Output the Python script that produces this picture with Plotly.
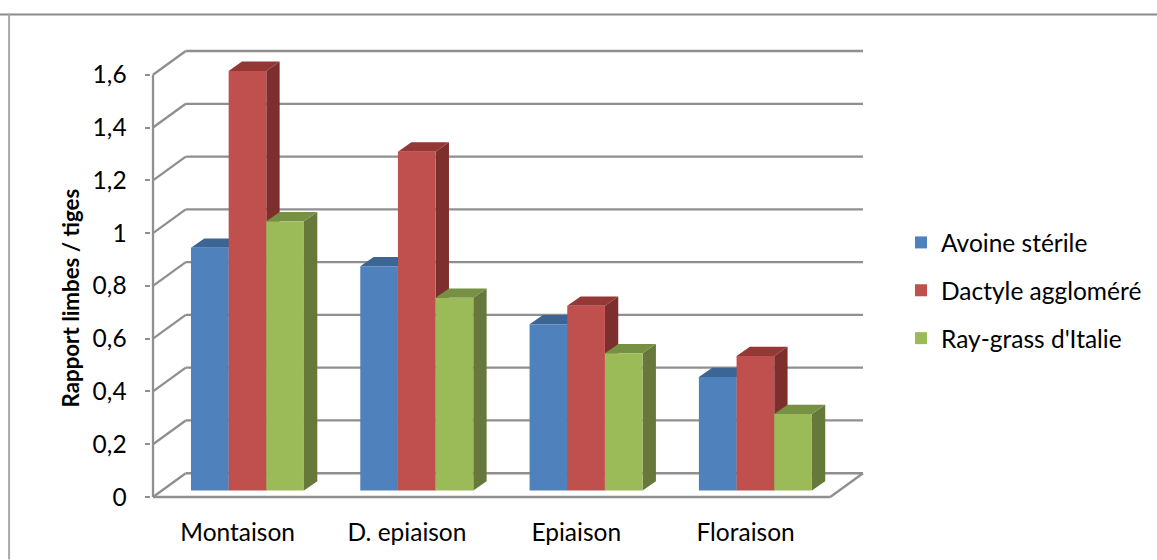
import plotly.graph_objects as go

categories = ["Montaison", "D. epiaison", "Epiaison", "Floraison"]
avoine = [0.92, 0.85, 0.63, 0.43]
dactyle = [1.59, 1.284, 0.70, 0.51]
raygrass = [1.02, 0.73, 0.52, 0.29]
y_ticks = [0, 0.2, 0.4, 0.6, 0.8, 1.0, 1.2, 1.4, 1.6]
y_tick_labels = ["0", "0,2", "0,4", "0,6", "0,8", "1", "1,2", "1,4", "1,6"]

series = [
    ("Avoine stérile", avoine, "#4F81BD", "#3A6594", "#335A85"),
    ("Dactyle aggloméré", dactyle, "#C0504D", "#943836", "#7D2F2D"),
    ("Ray-grass d'Italie", raygrass, "#9BBB59", "#779144", "#66783A"),
]

FONT = "Lato"
GREY = "#8F8F8F"
W, H = 1157, 560
PAD = 2  # room kept round the frame so that its lines are not clipped
L, R, T, B = 153.3 - PAD, 862.7 + PAD, 50.7 - PAD, 497.5 + PAD

# projection of the chart's depth, in axis units
wall_dx, wall_dy = 0.1935, 0.09
bar_dx, bar_dy = 0.0787, 0.0352
lift, shift, bar_w = 0.0246, 0.058, 0.2225
pad_x, pad_y = PAD / 169.1, PAD / 264.4

x_front = [-0.5, len(categories) - 0.5]
fig = go.Figure()


def line(xs, ys):
    fig.add_trace(go.Scatter(x=xs, y=ys, mode="lines", showlegend=False, hoverinfo="skip",
                             line=dict(color=GREY, width=2.3), zorder=0))


for v in y_ticks:
    line([x_front[0] + wall_dx, x_front[1] + wall_dx], [v + wall_dy, v + wall_dy])
    line([x_front[0], x_front[0] + wall_dx], [v, v + wall_dy])
line([x_front[0], x_front[0]], [y_ticks[0], y_ticks[-1]])
line(x_front, [0, 0])
line([x_front[1], x_front[1] + wall_dx], [0, wall_dy])


def face(xs, ys, color, z):
    fig.add_trace(go.Scatter(x=xs, y=ys, mode="lines", fill="toself", fillcolor=color, showlegend=False,
                             hoverinfo="skip", line=dict(width=0, color=color), zorder=z))


for s, (name, vals, front, top, side) in enumerate(series):
    cx = [i + shift + (s - 1) * bar_w for i in range(len(vals))]
    z = 1 + 2 * s
    sx, sy, tx, ty = [], [], [], []
    for c, v in zip(cx, vals):
        l, r, y0, y1 = c - bar_w / 2, c + bar_w / 2, lift, lift + v
        sx += [r, r + bar_dx, r + bar_dx, r, r, None]
        sy += [y0, y0 + bar_dy, y1 + bar_dy, y1, y0, None]
        tx += [l, r, r + bar_dx, l + bar_dx, l, None]
        ty += [y1, y1, y1 + bar_dy, y1 + bar_dy, y1, None]
    face(sx, sy, side, z)
    face(tx, ty, top, z)
    fig.add_trace(go.Bar(x=cx, y=vals, base=lift, width=bar_w, name=name, legendgroup=name,
                         marker=dict(color=front, line=dict(width=0)), zorder=z + 1))


def px(x):
    return (x - L) / (R - L)


def py(y):
    return (B - y) / (B - T)


fig.update_layout(
    width=W, height=H, barmode="overlay", plot_bgcolor="white", paper_bgcolor="white",
    margin=dict(l=L, r=W - R, t=T, b=H - B, autoexpand=False),
    font=dict(family=FONT, size=24.5, color="black"),
    xaxis=dict(range=[x_front[0] - pad_x, x_front[1] + wall_dx + pad_x], tickvals=list(range(len(categories))),
               ticktext=categories, showgrid=False, zeroline=False, showline=False, ticks="",
               ticklabelstandoff=16, tickfont=dict(size=24.5)),
    yaxis=dict(range=[-pad_y, y_ticks[-1] + wall_dy + pad_y], tickvals=y_ticks, ticktext=y_tick_labels,
               showgrid=False, zeroline=False, showline=False, ticks="outside", ticklen=5.5,
               tickwidth=2.3, tickcolor=GREY, ticklabelstandoff=13, tickfont=dict(size=24.5)),
    legend=dict(xref="container", yref="container", x=901 / W, y=1 - 220 / H,
                xanchor="left", yanchor="top",
                tracegroupgap=13, font=dict(size=24.5), bgcolor="rgba(0,0,0,0)"),
    annotations=[
        dict(text="<b>Rapport limbes / tiges</b>", textangle=-90, xref="paper", yref="paper", showarrow=False,
             x=px(71), y=py(298), xanchor="center", yanchor="middle", font=dict(size=22.3)),
    ],
    shapes=[
        dict(type="line", xref="paper", yref="paper", x0=px(0), x1=px(1157), y0=py(14.2), y1=py(14.2),
             line=dict(color="#8A8A8A", width=2)),
        dict(type="line", xref="paper", yref="paper", x0=px(9.5), x1=px(9.5), y0=py(13.2), y1=py(560),
             line=dict(color="#A8A8A8", width=2)),
    ],
)
fig.write_html("out.html", config=dict(displayModeBar=False),
               post_script="document.body.style.margin='0';document.documentElement.style.overflow='hidden';")
